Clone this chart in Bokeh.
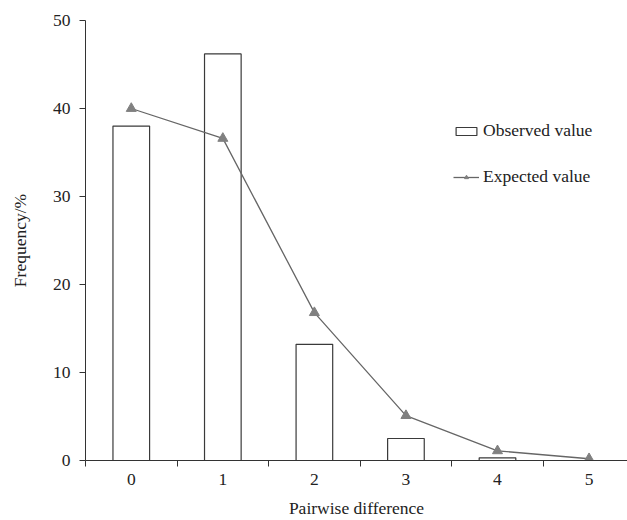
from bokeh.plotting import figure
from bokeh.models import Range1d, FixedTicker, Legend, LegendItem, ColumnDataSource
from bokeh.embed import file_html
from bokeh.resources import INLINE

categories = [0, 1, 2, 3, 4, 5]
tick_labels = ["0", "1", "2", "3", "4", "5"]
observed = [38.0, 46.2, 13.2, 2.5, 0.3, 0.0]
expected = [40.0, 36.6, 16.8, 5.1, 1.1, 0.2]

FONT = "'Liberation Serif', 'Times New Roman', serif"
FS = "17.5px"
TXT = "#222222"
AX = "#333333"

src = ColumnDataSource(dict(x=categories, obs=observed, exp=expected))

p = figure(width=627, height=520, output_backend="svg", toolbar_location=None,
           x_range=Range1d(-0.5, 5.42), y_range=Range1d(0, 50),
           min_border_left=85, min_border_right=0, min_border_top=20, min_border_bottom=59)
p.outline_line_color = None
p.xgrid.grid_line_color = None
p.ygrid.grid_line_color = None
p.background_fill_color = "white"
p.border_fill_color = "white"

bars = p.vbar(x="x", top="obs", width=0.4, bottom=0, source=src,
              fill_color="white", line_color="#3a3a3a", line_width=1.2)
ln = p.line(x="x", y="exp", source=src, line_color="#666666", line_width=1.3)
sc = p.scatter(x="x", y="exp", source=src, marker="triangle", size=10,
               fill_color="#808080", line_color="#808080")

# x axis
p.xaxis.ticker = FixedTicker(ticks=categories,
                             minor_ticks=[c - 0.5 for c in categories] + [5.5])
p.xaxis.major_label_overrides = {c: t for c, t in zip(categories, tick_labels)}
p.xaxis.major_tick_out = 0
p.xaxis.major_tick_in = 0
p.xaxis.minor_tick_out = 6
p.xaxis.minor_tick_in = 0
p.xaxis.minor_tick_line_color = AX
p.xaxis.axis_line_color = AX
p.xaxis.axis_label = "Pairwise difference"
p.xaxis.major_label_standoff = 7
p.xaxis.axis_label_standoff = 10

# y axis
p.yaxis.ticker = FixedTicker(ticks=[0, 10, 20, 30, 40, 50], minor_ticks=[])
p.yaxis.major_tick_out = 6
p.yaxis.major_tick_in = 0
p.yaxis.major_tick_line_color = AX
p.yaxis.axis_line_color = AX
p.yaxis.axis_label = "Frequency/%"
p.yaxis.major_label_standoff = 9
p.yaxis.axis_label_standoff = 20

for ax in (p.xaxis, p.yaxis):
    ax.major_label_text_font = FONT
    ax.major_label_text_font_size = FS
    ax.major_label_text_color = TXT
    ax.axis_label_text_font = FONT
    ax.axis_label_text_font_size = FS
    ax.axis_label_text_font_style = "normal"
    ax.axis_label_text_color = TXT

legend = Legend(items=[LegendItem(label="Observed value", renderers=[bars]),
                       LegendItem(label="Expected value", renderers=[ln, sc])],
                location=(368, 273), orientation="vertical",
                border_line_color=None, background_fill_alpha=0,
                padding=0, margin=0, spacing=25,
                glyph_width=26, glyph_height=10, label_height=20,
                label_standoff=4,
                label_text_font=FONT, label_text_font_size=FS,
                label_text_color=TXT)
p.add_layout(legend, "center")

open("out.html", "w").write(file_html(p, INLINE))
